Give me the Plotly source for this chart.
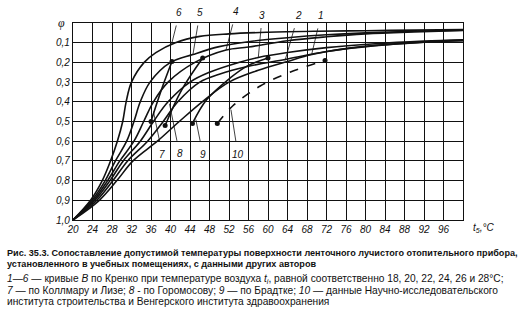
import plotly.graph_objects as go

# ---- data (t5 in °C, phi) ----
c6_t = [20, 23.6, 26.0, 27.7, 29.1, 30.2, 30.9, 32.0, 34.6, 37.0, 41.0, 46.0, 52.0, 60.0, 70.0, 80.0, 90.0, 100.0]
c6_p = [1.0, 0.9, 0.8, 0.7, 0.6, 0.5, 0.4, 0.3, 0.2, 0.15, 0.1, 0.068, 0.055, 0.047, 0.042, 0.039, 0.036, 0.033]
c5_t = [20, 23.9, 26.6, 28.7, 31.0, 32.5, 33.8, 35.8, 40.0, 44.6, 50.0, 56.0, 64.0, 72.0, 80.0, 90.0, 100.0]
c5_p = [1.0, 0.9, 0.8, 0.7, 0.6, 0.5, 0.4, 0.3, 0.2, 0.16, 0.12, 0.095, 0.075, 0.06, 0.05, 0.042, 0.036]
c4_t = [20, 24.2, 27.1, 29.6, 32.5, 34.5, 36.5, 39.5, 45.0, 51.4, 56.0, 64.0, 72.0, 80.0, 90.0, 100.0]
c4_p = [1.0, 0.9, 0.8, 0.7, 0.6, 0.5, 0.4, 0.3, 0.2, 0.137, 0.122, 0.09, 0.07, 0.055, 0.045, 0.038]
c3_t = [20, 24.5, 27.6, 30.3, 33.8, 36.5, 39.5, 44.0, 48.0, 54.0, 58.0, 64.0, 72.0, 82.0, 92.0, 100.0]
c3_p = [1.0, 0.9, 0.8, 0.7, 0.6, 0.5, 0.4, 0.3, 0.25, 0.2, 0.175, 0.15, 0.125, 0.105, 0.092, 0.085]
c2_t = [20, 24.9, 28.2, 31.2, 35.3, 38.5, 41.5, 46.0, 50.0, 56.0, 63.5, 72.0, 82.0, 92.0, 100.0]
c2_p = [1.0, 0.9, 0.8, 0.7, 0.6, 0.5, 0.4, 0.3, 0.26, 0.22, 0.185, 0.145, 0.115, 0.097, 0.088]
c1_t = [20, 25.4, 29.0, 32.3, 37.3, 41.8, 46.5, 52.0, 58.0, 64.0, 69.0, 76.0, 84.0, 92.0, 100.0]
c1_p = [1.0, 0.9, 0.8, 0.7, 0.6, 0.5, 0.4, 0.3, 0.24, 0.195, 0.16, 0.13, 0.11, 0.097, 0.09]
c7_t = [36.0, 37.3, 38.7, 40.3]
c7_p = [0.5, 0.4, 0.3, 0.195]
c8_t = [38.9, 42.3, 46.6]
c8_p = [0.52, 0.34, 0.178]
c9_t = [44.5, 47.4, 52.2, 55.6, 60.0]
c9_p = [0.51, 0.39, 0.28, 0.22, 0.178]
c10_t = [49.6, 52.8, 58.4, 64.5, 71.7]
c10_p = [0.51, 0.42, 0.32, 0.25, 0.19]

x_ticks = list(range(20, 100, 4))
y_ticks = [0.1, 0.2, 0.3, 0.4, 0.5, 0.6, 0.7, 0.8, 0.9, 1.0]
y_tick_text = ["0,1", "0,2", "0,3", "0,4", "0,5", "0,6", "0,7", "0,8", "0,9", "1,0"]

INK = "#111111"
fig = go.Figure()

main = [(c6_t, c6_p), (c5_t, c5_p), (c4_t, c4_p), (c3_t, c3_p), (c2_t, c2_p), (c1_t, c1_p)]
for t, p in main:
    fig.add_trace(go.Scatter(x=t, y=p, mode="lines", line=dict(color=INK, width=1.6, shape="spline", smoothing=1.0),
                             showlegend=False, hoverinfo="skip"))
for t, p, dash in [(c7_t, c7_p, "solid"), (c8_t, c8_p, "solid"), (c9_t, c9_p, "solid"), (c10_t, c10_p, "dash")]:
    fig.add_trace(go.Scatter(x=t, y=p, mode="lines", line=dict(color=INK, width=1.6, shape="spline", dash=dash),
                             showlegend=False, hoverinfo="skip"))
    fig.add_trace(go.Scatter(x=[t[0], t[-1]], y=[p[0], p[-1]], mode="markers",
                             marker=dict(color=INK, size=5), showlegend=False, hoverinfo="skip"))

LF = dict(family="Liberation Sans", size=10, color=INK, style="italic")
# curve labels with leader lines (point on curve, offset to label in px)
labels = [
    ("6", 40.2, 0.11, 8, -32), ("5", 44.6, 0.16, 7, -42), ("4", 51.4, 0.135, 10, -38),
    ("3", 58.0, 0.178, 4, -43), ("2", 63.5, 0.19, 13, -45), ("1", 69.0, 0.155, 9, -38),
    ("7", 36.5, 0.45, 9, 43), ("8", 39.8, 0.41, 10, 50), ("9", 45.2, 0.49, 7, 35), ("10", 52.4, 0.44, 7, 45),
]
for txt, x, y, ax, ay in labels:
    fig.add_annotation(x=x, y=y, text=txt, showarrow=True, arrowhead=0, arrowwidth=0.8, arrowcolor=INK,
                       ax=ax, ay=ay, font=LF, standoff=0, startstandoff=6)

fig.add_annotation(xref="paper", yref="paper", x=-0.015, y=1.0, text="φ", showarrow=False,
                   xanchor="right", yanchor="middle", font=dict(family="Liberation Serif", size=12, color=INK, style="italic"))
fig.add_annotation(xref="paper", yref="paper", x=1.02, y=-0.04, text="t<sub>5</sub>,°C", showarrow=False,
                   xanchor="left", yanchor="middle", font=dict(family="Liberation Sans", size=10, color=INK, style="italic"))

cap = [
    ("<b>Рис. 35.3. Сопоставление допустимой температуры поверхности ленточного лучистого отопительного прибора,</b>", 253, 9.1),
    ("<b>установленного в учебных помещениях, с данными других авторов</b>", 264, 9.1),
    ("<i>1—6</i> — кривые <i>B</i> по Кренко при температуре воздуха <i>t<sub>i</sub></i>, равной соответственно 18, 20, 22, 24, 26 и 28°C;", 279, 10.2),
    ("<i>7</i> — по Коллмару и Лизе; <i>8</i> - по Горомосову; <i>9</i> — по Брадтке; <i>10</i> — данные Научно-исследовательского", 290, 10.2),
    ("института строительства и Венгерского института здравоохранения", 301, 10.2),
]
for txt, py, sz in cap:
    fig.add_annotation(xref="paper", yref="paper", x=(5 - 73) / 390, y=(220 - py) / 197, text=txt, showarrow=False,
                       xanchor="left", yanchor="middle", align="left",
                       font=dict(family="Liberation Sans", size=sz, color=INK))

fig.update_xaxes(range=[20, 100], tickvals=x_ticks, ticktext=[str(v) for v in x_ticks], showgrid=True,
                 gridcolor=INK, gridwidth=1, showline=True, mirror=True, linecolor=INK, linewidth=1.2,
                 ticks="", zeroline=False, tickfont=dict(family="Liberation Sans", size=10, color=INK, style="italic"))
fig.update_yaxes(range=[1.0, 0.0], tickvals=y_ticks, ticktext=y_tick_text, showgrid=True,
                 gridcolor=INK, gridwidth=1, showline=True, mirror=True, linecolor=INK, linewidth=1.2,
                 ticks="", zeroline=False, tickfont=dict(family="Liberation Sans", size=10, color=INK, style="italic"))
fig.update_layout(width=525, height=316, margin=dict(l=73, r=62, t=23, b=96),
                  paper_bgcolor="white", plot_bgcolor="white")
fig.write_html("out.html")
